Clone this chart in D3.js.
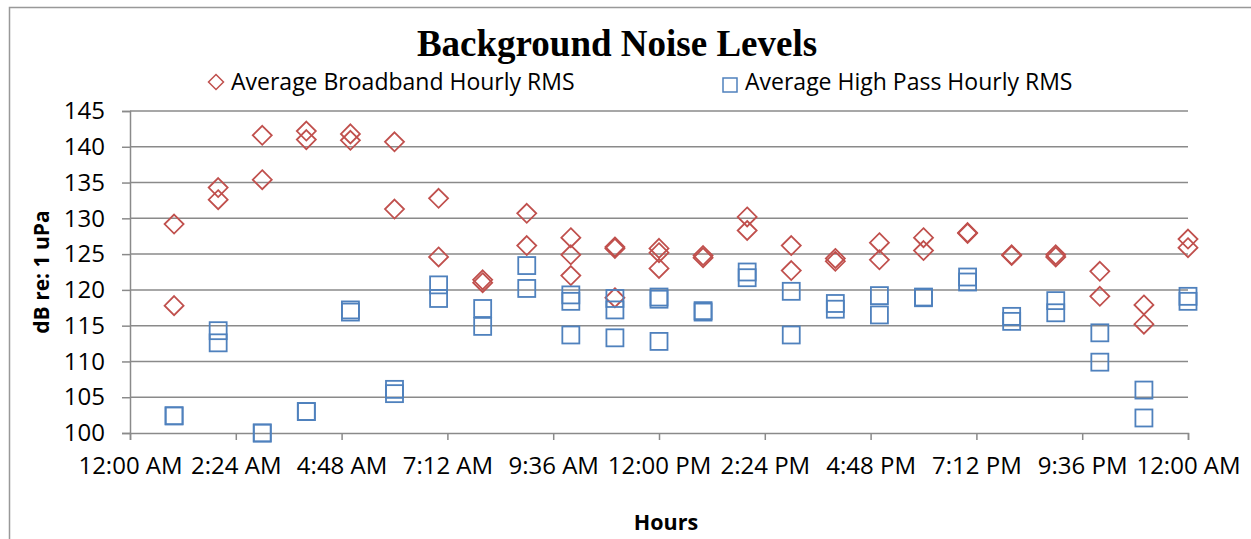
<!DOCTYPE html>
<meta charset="utf-8">
<style>
  body { margin: 0; background: #fff; }
  text { font-family: "Open Sans", sans-serif; fill: #000; }
</style>
<body>
  <script src="https://d3js.org/d3.v7.min.js"></script>
  <script>
    // hour of day for each reading
    var hours = [1, 2, 3, 4, 5, 6, 7, 8, 9, 10, 11, 12,
                 13, 14, 15, 16, 17, 18, 19, 20, 21, 22, 23, 24];

    // average broadband hourly RMS (dB), one array per recording run
    var broadbandA = [129.2, 134.3, 141.6, 142.2, 141.8, 140.7, 132.8, 121.4, 130.7, 127.3, 126.0, 125.8,
                      124.8, 130.2, 126.2, 124.4, 126.6, 127.3, 128.0, 124.9, 124.9, 122.6, 117.9, 127.1];
    var broadbandB = [117.8, 132.6, 135.4, 141.0, 140.9, 131.3, 124.6, 121.0, 126.2, 124.9, 125.8, 125.2,
                      124.5, 128.3, 122.7, 124.0, 124.2, 125.5, 127.9, 124.8, 124.6, 119.1, 115.2, 125.9];
    var broadbandC = [null, null, null, null, null, null, null, null, null, 122.0, 118.9, 123.0,
                      null, null, null, null, null, null, null, null, null, null, null, null];

    // average high pass hourly RMS (dB)
    var highPassA = [102.4, 114.3, 100.0, 103.0, 117.2, 106.1, 120.7, 117.4, 123.4, 119.3, 118.8, 119.0,
                     117.1, 122.5, 119.8, 118.1, 119.2, 119.0, 121.8, 116.3, 118.5, 114.0, 106.0, 119.1];
    var highPassB = [102.4, 112.6, 100.0, 103.0, 116.9, 105.5, 118.8, 114.9, 120.2, 118.4, 117.2, 118.7,
                     116.9, 121.7, 113.7, 117.3, 116.5, 118.9, 121.1, 115.6, 116.8, 109.9, 102.1, 118.4];
    var highPassC = [null, null, null, null, null, null, null, null, null, 113.7, 113.3, 112.8,
                     null, null, null, null, null, null, null, null, null, null, null, null];

    var xTickValues = [0, 2.4, 4.8, 7.2, 9.6, 12, 14.4, 16.8, 19.2, 21.6, 24];
    var xTickLabels = ["12:00 AM", "2:24 AM", "4:48 AM", "7:12 AM", "9:36 AM", "12:00 PM",
                       "2:24 PM", "4:48 PM", "7:12 PM", "9:36 PM", "12:00 AM"];
    var yTickValues = [100, 105, 110, 115, 120, 125, 130, 135, 140, 145];

    var width = 1251,
        height = 539,
        gridColor = "#8a8a8a",
        red = "#C0504D",
        blue = "#4F81BD";

    var svg = d3.select("body").append("svg")
        .attr("width", width)
        .attr("height", height);

    // chart frame (runs off the right and bottom edge)
    svg.append("rect")
        .attr("x", 9.5).attr("y", 7.5)
        .attr("width", width + 20).attr("height", height + 20)
        .attr("fill", "none")
        .attr("stroke", "#999")
        .attr("stroke-width", 1.5);

    var x = d3.scaleLinear().domain([0, 24]).range([130, 1188]);
    var y = d3.scaleLinear().domain([100, 145]).range([433, 111]);

    // horizontal gridlines
    svg.append("g")
      .selectAll("line")
      .data(yTickValues.slice(1))
      .enter().append("line")
        .attr("x1", x(0)).attr("x2", x(24))
        .attr("y1", function(d) { return y(d); })
        .attr("y2", function(d) { return y(d); })
        .attr("stroke", gridColor)
        .attr("stroke-width", 1.5);

    // y axis
    var yAxis = svg.append("g")
        .attr("transform", "translate(" + x(0) + ",0)")
        .call(d3.axisLeft(y).tickValues(yTickValues).tickSize(8).tickPadding(17));
    yAxis.select(".domain").attr("stroke", gridColor).attr("stroke-width", 1.5);
    yAxis.selectAll(".tick line").attr("stroke", gridColor).attr("stroke-width", 1.5);
    yAxis.selectAll(".tick text")
        .style("font-family", "'Open Sans', sans-serif")
        .style("font-size", "24px");

    // x axis
    var xAxis = svg.append("g")
        .attr("transform", "translate(0," + y(100) + ")")
        .call(d3.axisBottom(x).tickValues(xTickValues).tickSize(7).tickPadding(17)
          .tickFormat(function(d, i) { return xTickLabels[i]; }));
    xAxis.select(".domain").attr("stroke", gridColor).attr("stroke-width", 1.5);
    xAxis.selectAll(".tick line").attr("stroke", gridColor).attr("stroke-width", 1.5);
    xAxis.selectAll(".tick text")
        .style("font-family", "'Open Sans', sans-serif")
        .style("font-size", "24px");

    function points(values) {
      return hours.map(function(h, i) { return {h: h, v: values[i]}; })
                  .filter(function(d) { return d.v !== null; });
    }

    function diamond(r) {
      return "M0," + (-r) + "L" + r + ",0L0," + r + "L" + (-r) + ",0Z";
    }

    // broadband markers
    var bb = points(broadbandA).concat(points(broadbandB), points(broadbandC));
    svg.append("g")
      .selectAll("path")
      .data(bb)
      .enter().append("path")
        .attr("d", diamond(9.5))
        .attr("transform", function(d) { return "translate(" + x(d.h) + "," + y(d.v) + ")"; })
        .attr("fill", "none")
        .attr("stroke", red)
        .attr("stroke-width", 1.8);

    // high pass markers
    var hp = points(highPassA).concat(points(highPassB), points(highPassC));
    svg.append("g")
      .selectAll("rect")
      .data(hp)
      .enter().append("rect")
        .attr("x", function(d) { return x(d.h) - 8.5; })
        .attr("y", function(d) { return y(d.v) - 8.5; })
        .attr("width", 17).attr("height", 17)
        .attr("fill", "none")
        .attr("stroke", blue)
        .attr("stroke-width", 1.8);

    // title
    svg.append("text")
        .attr("x", 617).attr("y", 56)
        .attr("text-anchor", "middle")
        .style("font-family", "'Liberation Serif', serif")
        .style("font-weight", "bold")
        .style("font-size", "37px")
        .text("Background Noise Levels");

    // legend
    svg.append("path")
        .attr("d", diamond(7.5))
        .attr("transform", "translate(216,82)")
        .attr("fill", "none").attr("stroke", red).attr("stroke-width", 1.5);
    svg.append("text")
        .attr("x", 231).attr("y", 90)
        .style("font-size", "23px")
        .text("Average Broadband Hourly RMS");

    svg.append("rect")
        .attr("x", 723).attr("y", 78)
        .attr("width", 14).attr("height", 14)
        .attr("fill", "none").attr("stroke", blue).attr("stroke-width", 1.5);
    svg.append("text")
        .attr("x", 745).attr("y", 90)
        .style("font-size", "23px")
        .text("Average High Pass Hourly RMS");

    // axis titles
    svg.append("text")
        .attr("transform", "translate(49,272)rotate(-90)")
        .attr("text-anchor", "middle")
        .style("font-weight", "bold")
        .style("font-size", "21px")
        .text("dB re: 1 uPa");

    svg.append("text")
        .attr("x", 666).attr("y", 530)
        .attr("text-anchor", "middle")
        .style("font-weight", "bold")
        .style("font-size", "21.5px")
        .text("Hours");
  </script>
</body>
